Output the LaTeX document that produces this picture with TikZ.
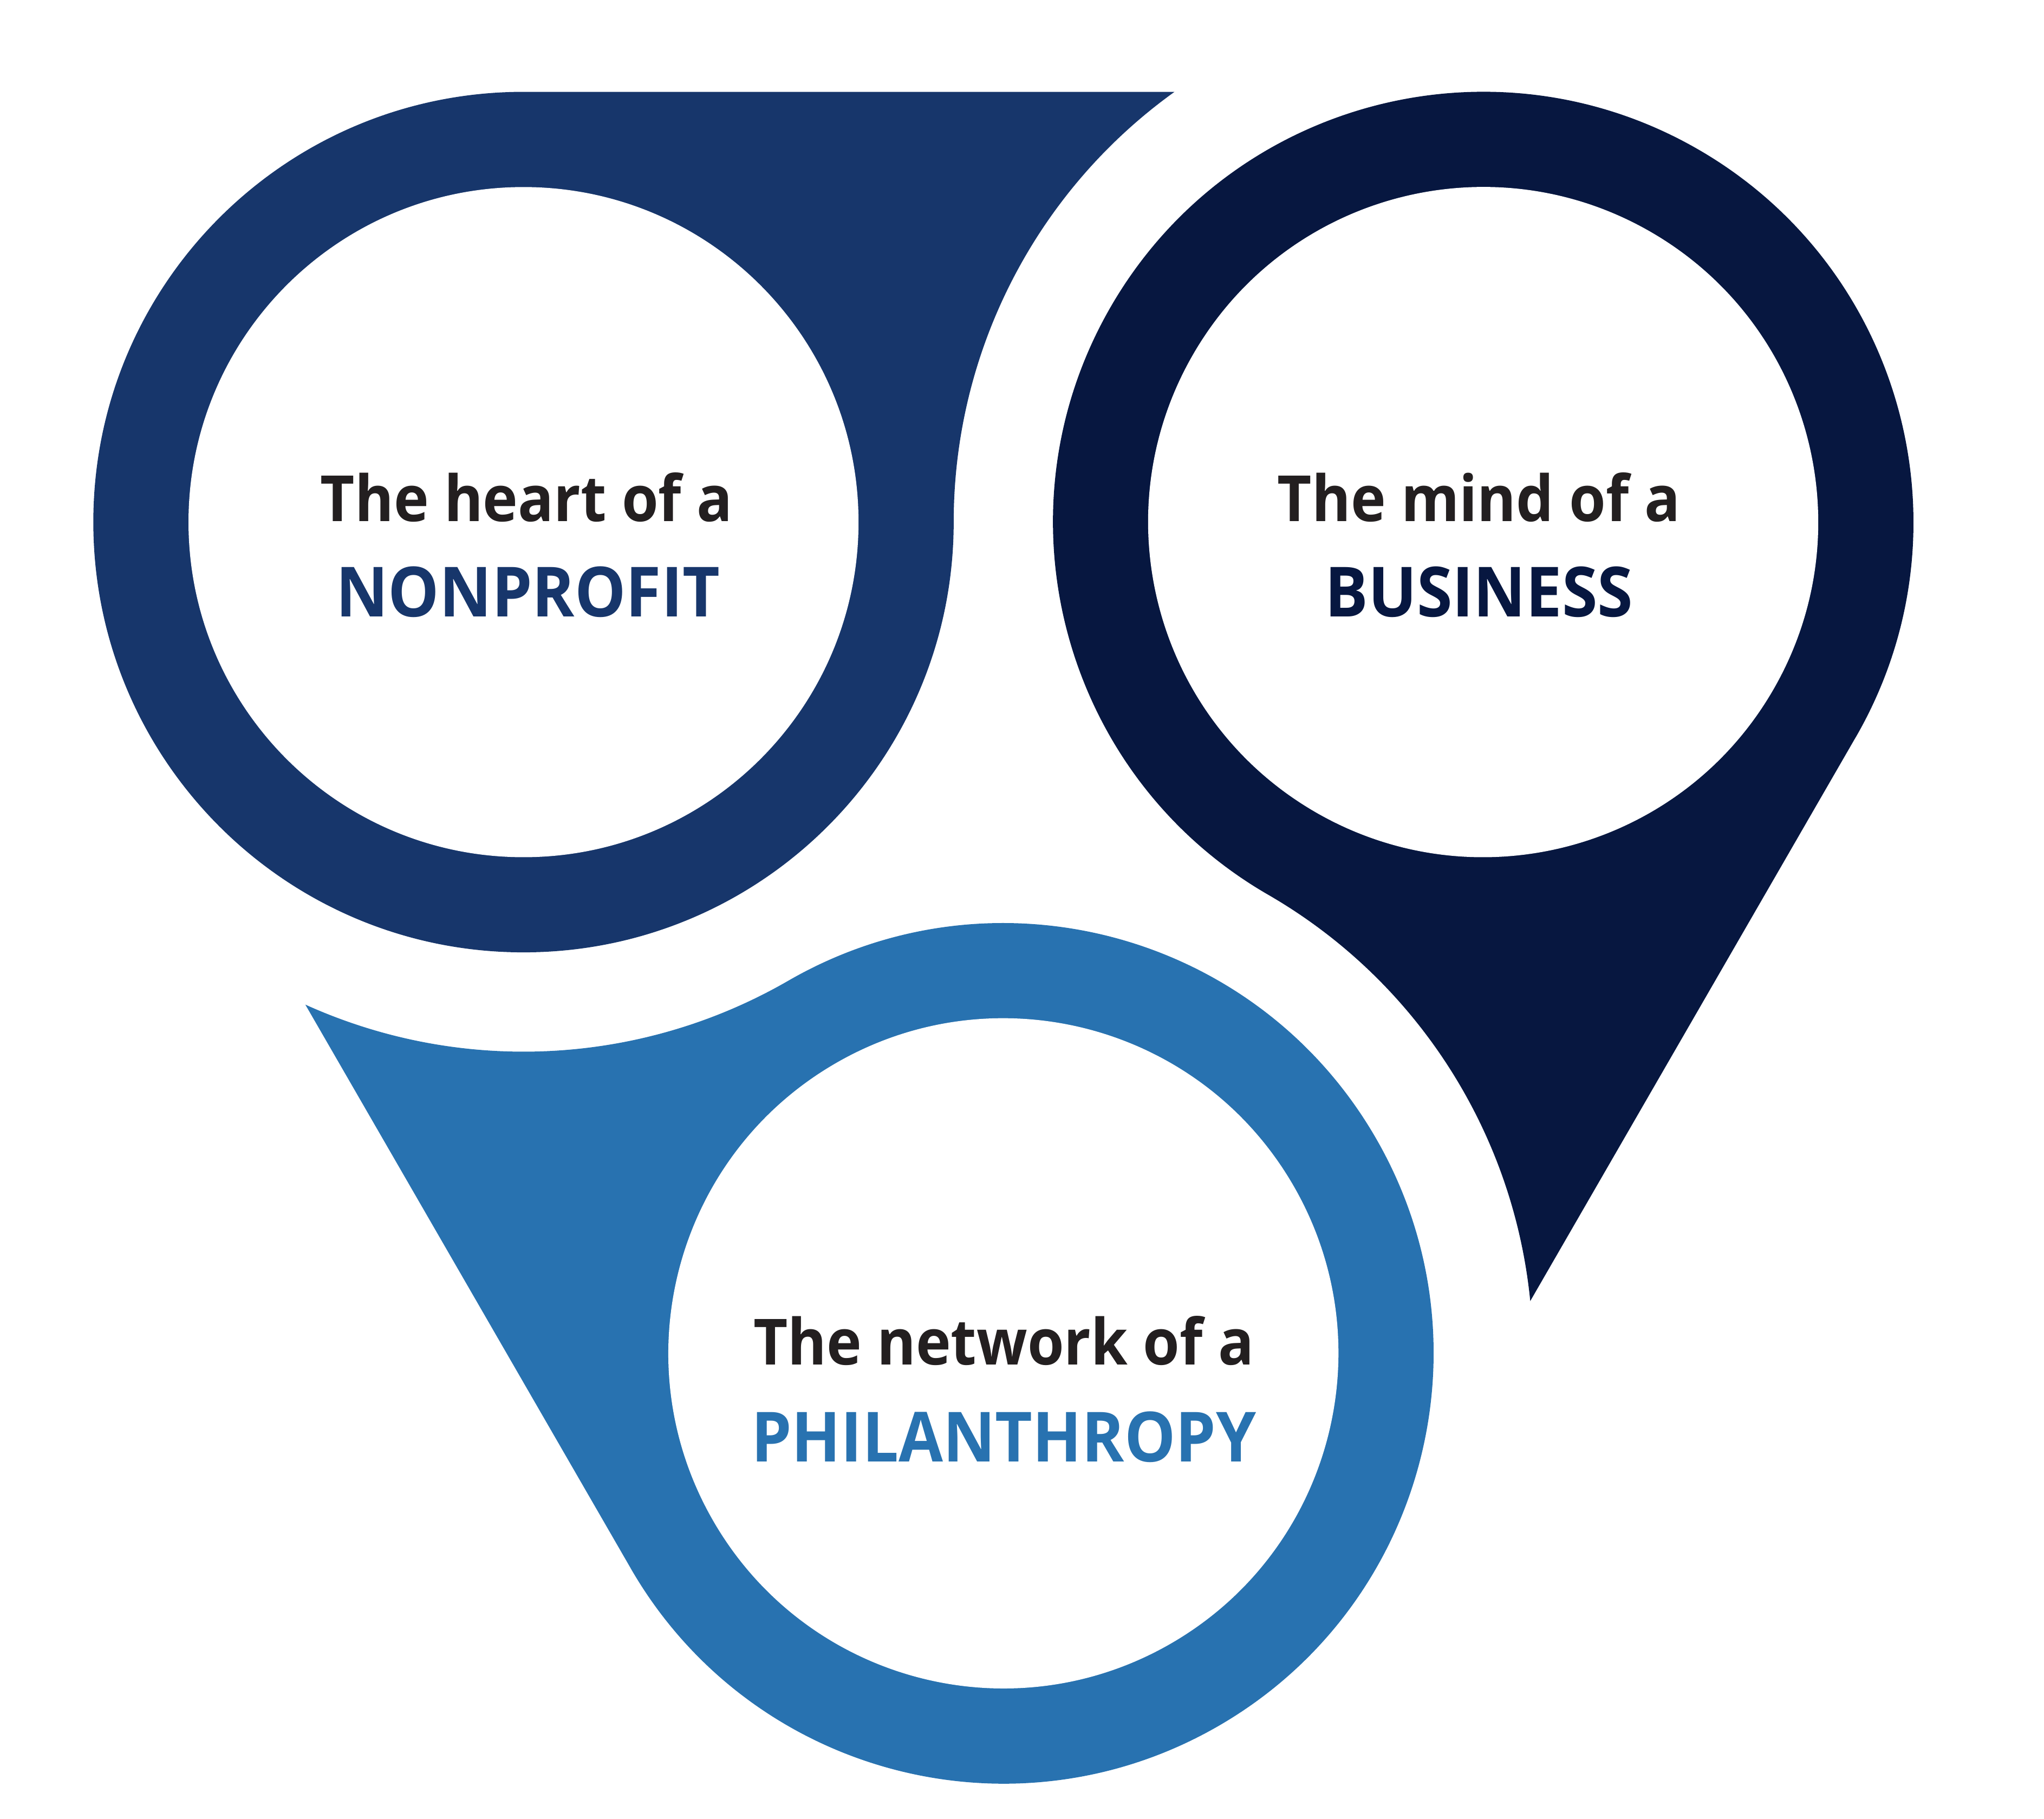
\documentclass[tikz,border=0pt]{standalone}
\usepackage{fontspec}
\newfontfamily\labfont{Open Sans}[FakeStretch=0.93]
\definecolor{npblue}{HTML}{17366B}
\definecolor{bizblue}{HTML}{071740}
\definecolor{phblue}{HTML}{2872B0}
\definecolor{txtdark}{HTML}{231F20}
\begin{document}
\begin{tikzpicture}[x=0.01cm,y=0.01cm,
  lowtext/.style={anchor=base, inner sep=0pt, text=txtdark, font=\labfont\bfseries\fontsize{13.9pt}{16pt}\selectfont},
  captext/.style={anchor=base, inner sep=0pt, font=\labfont\bfseries\fontsize{15.1pt}{18pt}\selectfont},
  hole/.style={fill=white}]
\fill[white] (0,0) rectangle (1568,1395);
\useasboundingbox (0,0) rectangle (1568,1395);
\foreach \ang/\col in {0/npblue,-120/bizblue,120/phblue}{
  \begin{scope}[shift={(769.7,782)}, rotate=\ang]
    \fill[\col] (-368.1,542.5) -- (131.25,542.5)
      arc[start angle=125.67, end angle=180, radius=406.2]
      arc[start angle=0, end angle=-270, radius=330] -- cycle;
    \fill[hole] (-368.1,212.5) circle[radius=257];
  \end{scope}
}
\node[lowtext] (h1) at (404,995) {The heart of a};
\node[captext, text=npblue] (h2) at (405,922) {NONPROFIT};
\node[lowtext] (m1) at (1134.5,995) {The mind of a};
\node[captext, text=bizblue] (m2) at (1134.5,922) {BUSINESS};
\node[lowtext] (n1) at (770,348) {The network of a};
\node[captext, text=phblue] (n2) at (770,274) {PHILANTHROPY};
\end{tikzpicture}
\end{document}
